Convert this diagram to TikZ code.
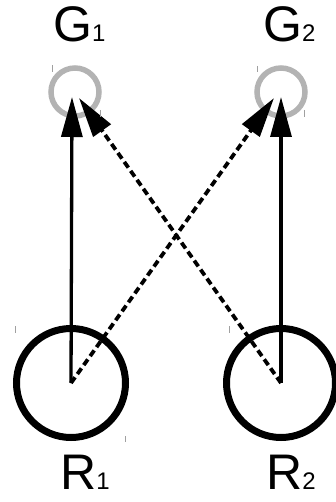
\documentclass[tikz,border=0pt]{standalone}
\usepackage{fontspec}
\setmainfont{Liberation Sans}
\usetikzlibrary{arrows.meta}
\definecolor{ringgray}{HTML}{B3B3B3}
\definecolor{tickgray}{HTML}{A0A0A0}
\tikzset{
  rnode/.style={circle,draw=black,line width=7pt,minimum size=109pt,inner sep=0pt},
  gnode/.style={circle,draw=ringgray,line width=5.5pt,minimum size=48pt,inner sep=0pt},
  lab/.style={anchor=base west,inner sep=0pt,font=\fontsize{50}{50}\selectfont},
  solidarrow/.style={line width=3.3pt,-{Triangle[length=40pt,width=21pt]}},
  dasharrow/.style={line width=3.8pt,dash pattern=on 7pt off 4pt,-{Triangle[length=40pt,width=21pt]}},
  tick/.style={draw=tickgray,line width=0.8pt}
}
\newcommand{\subdig}[1]{{\fontsize{24}{24}\selectfont #1}}
\newcommand{\lbltext}[2]{#1\subdig{#2}}
\begin{document}
\begin{tikzpicture}[x=1pt,y=-1pt]
\useasboundingbox (0,0) rectangle (335,502);
% goal rings
\node[gnode] (G1) at (75,92) {};
\node[gnode] (G2) at (281,92) {};
% robot circles
\node[rnode] (R1) at (71,383) {};
\node[rnode] (R2) at (281,383) {};
% arrow tip points
\coordinate (t11) at (72,97);
\coordinate (t21) at (79,98);
\coordinate (t12) at (274,98);
\coordinate (t22) at (281,97);
% arrows
\draw[solidarrow] (R1.center) -- (t11);
\draw[solidarrow] (R2.center) -- (t22);
\draw[dasharrow] (R1.center) -- (t12);
\draw[dasharrow] (R2.center) -- (t21);
% labels
\node[lab] (LG1) at (53,42) {\lbltext{G}{1}};
\node[lab] (LG2) at (263,42) {\lbltext{G}{2}};
\node[lab] (LR1) at (60,489) {\lbltext{R}{1}};
\node[lab] (LR2) at (266,489) {\lbltext{R}{2}};
% small tick marks
\draw[tick] (52,65) -- (52,72);
\draw[tick] (100,110) -- (100,117);
\draw[tick] (257,66) -- (257,72);
\draw[tick] (304,110) -- (304,117);
\draw[tick] (15,326) -- (15,333);
\draw[tick] (125,436) -- (125,442);
\draw[tick] (229,326) -- (229,333);
\end{tikzpicture}
\end{document}
